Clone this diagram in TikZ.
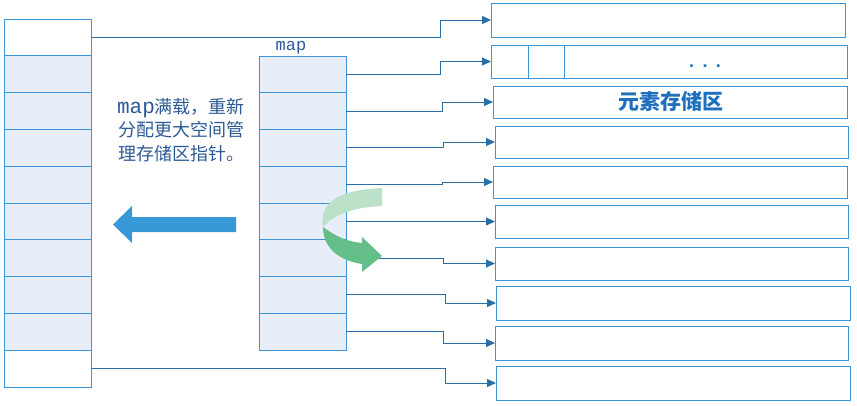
\documentclass[tikz,border=0pt]{standalone}
\usepackage{fontspec}
\setmainfont{Liberation Sans}
\newfontfamily\cjk{Noto Sans CJK SC}
\newfontfamily\mono{Liberation Mono}
\usetikzlibrary{arrows.meta}
\definecolor{boxline}{RGB}{58,150,216}
\definecolor{cellfill}{RGB}{232,238,248}
\definecolor{connc}{RGB}{41,110,165}
\definecolor{txtc}{RGB}{45,90,150}
\definecolor{bigarrow}{RGB}{56,152,216}
\definecolor{gdark}{RGB}{99,190,135}
\definecolor{glight}{RGB}{189,224,200}
\definecolor{titlec}{RGB}{30,112,190}
\begin{document}
\begin{tikzpicture}[x=1pt,y=-1pt,
  cell/.style={draw=boxline, line width=1pt, fill=cellfill, minimum width=87pt,
    minimum height=36.8pt, inner sep=0pt, outer sep=0pt, anchor=north west},
  rbox/.style={draw=boxline, line width=1pt, fill=white, inner sep=0pt, outer sep=0pt,
    anchor=north west},
  conn/.style={draw=connc, line width=1pt, -{Triangle[length=9pt,width=8pt]}},
  lbl/.style={inner sep=0pt, outer sep=0pt}]
\useasboundingbox[fill=white] (0,0) rectangle (857,405);

% left column
\node[cell, fill=white] (L0) at (4,19) {};
\foreach \i in {1,...,8} \node[cell] (L\i) at (4,{19+36.8*\i}) {};
\node[cell, fill=white] (L9) at (4,{19+36.8*9}) {};

% map column
\foreach \i in {1,...,8} \node[cell, minimum height=36.75pt] (M\i) at (259,{56+36.75*(\i-1)}) {};
\node[lbl, text=txtc, font=\mono\fontsize{17}{17}\selectfont] (maplbl) at (291,48) {map};

% right boxes
\node[rbox, minimum width=354pt, minimum height=34pt] (B1) at (491,3) {};
\node[rbox, minimum width=356pt, minimum height=33pt] (B2) at (491,45) {};
\node[rbox, minimum width=354pt, minimum height=32pt] (B3) at (493,86) {};
\node[rbox, minimum width=353pt, minimum height=32pt] (B4) at (495,126) {};
\node[rbox, minimum width=354pt, minimum height=32pt] (B5) at (493,166) {};
\node[rbox, minimum width=353pt, minimum height=33pt] (B6) at (495,205) {};
\node[rbox, minimum width=353pt, minimum height=33pt] (B7) at (495,247) {};
\node[rbox, minimum width=354pt, minimum height=34pt] (B8) at (496,286) {};
\node[rbox, minimum width=353pt, minimum height=34pt] (B9) at (495,326) {};
\node[rbox, minimum width=354pt, minimum height=34pt] (B10) at (496,366) {};

% dividers in B2
\draw[boxline, line width=1pt] ([xshift=37pt]B2.north west) -- ([xshift=37pt]B2.south west);
\draw[boxline, line width=1pt] ([xshift=73pt]B2.north west) -- ([xshift=73pt]B2.south west);
\node[lbl, text=titlec, font=\bfseries\fontsize{18}{18}\selectfont] (dots) at (705,66) {.\hspace{8.3pt}.\hspace{8.3pt}.};

% title in B3
\node[lbl, text=titlec, font=\cjk\bfseries\fontsize{21}{21}\selectfont] (title) at (671,101) {元素存储区};

% middle text
\node[lbl, text=txtc, align=center, font=\cjk\fontsize{18}{23.5}\selectfont] (note) at (181,130)
  {{\mono\fontsize{21}{23.5}\selectfont map}满载，重新\\分配更大空间管\\理存储区指针。};

% connectors
\draw[conn] (L0.east) -- ++(349,0) |- (B1.west);
\draw[conn] (M1.east) -- ++(94,0) |- (B2.west);
\draw[conn] (M2.east) -- ++(96,0) |- (B3.west);
\draw[conn] (M3.east) -- ++(97,0) |- (B4.west);
\draw[conn] (M4.east) -- ++(96,0) |- (B5.west);
\draw[conn] (M5.east) -- ++(96,0) |- (B6.west);
\draw[conn] (M6.east) -- ++(97,0) |- (B7.west);
\draw[conn] (M7.east) -- ++(99,0) |- (B8.west);
\draw[conn] (M8.east) -- ++(97,0) |- (B9.west);
\draw[conn] (L9.east) -- ++(354,0) |- (B10.west);

% big blue arrow
\fill[bigarrow] (236,217) -- (132,217) -- (132,206) -- (113,224.5) -- (132,243)
  -- (132,232) -- (236,232) -- cycle;

% green curved arrow
\fill[glight] (382,188) .. controls (342,190) and (322,200) .. (322.5,222) -- (323,227)
  .. controls (335,214) and (355,207) .. (382,206) -- cycle;
\fill[gdark] (323,227) .. controls (335,236) and (348,242) .. (362,243)
  -- (362,237) -- (382,256) -- (362,272) -- (362,264)
  .. controls (342,261) and (323,250) .. (323,227) -- cycle;
\end{tikzpicture}
\end{document}
